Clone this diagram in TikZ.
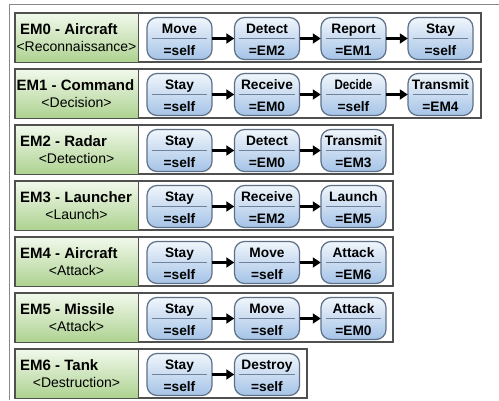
\documentclass[tikz,border=0pt]{standalone}
\usepackage{fontspec}
\setmainfont{Liberation Sans}
\usetikzlibrary{arrows.meta}

\definecolor{framegrey}{HTML}{8A8A8A}
\definecolor{rowgrey}{HTML}{505050}
\definecolor{greentop}{HTML}{F1F8EB}
\definecolor{greenbot}{HTML}{ADD290}
\definecolor{steptop}{HTML}{EEF4FB}
\definecolor{stepbot}{HTML}{A3C2E6}
\definecolor{stepedge}{HTML}{5F7188}
\definecolor{divline}{HTML}{6F8299}

\tikzset{
  rowbox/.style={draw=rowgrey, line width=1.1pt, fill=white},
  labelbox/.style={draw=rowgrey, line width=1.1pt, top color=greentop, bottom color=greenbot,
    minimum width=123pt, minimum height=49pt, anchor=north west, inner sep=0pt},
  titletext/.style={inner sep=0pt, font=\fontsize{15}{18}\selectfont\bfseries},
  subtext/.style={inner sep=0pt, font=\fontsize{14}{17}\selectfont},
  stepnode/.style={rectangle, minimum width=65pt, minimum height=42pt, inner sep=0pt},
  stepline/.style={draw=stepedge, line width=1.2pt},
  stepfill/.style={path picture={
      \foreach \k in {0,...,21} {
        \pgfmathsetmacro\mix{\k*100/21}
        \fill[stepbot!\mix!steptop]
          ([yshift=-2*\k pt]path picture bounding box.north west)
          rectangle ([yshift=-2*\k pt-2.4pt]path picture bounding box.north east);
      }}},
  steptext/.style={inner sep=0pt, anchor=base, font=\fontsize{13.7}{16}\selectfont\bfseries},
  divider/.style={draw=divline, line width=1pt},
  flow/.style={-{Triangle[length=8pt,width=10pt]}, line width=2.2pt, black},
}

% one entity row: name, top edge, title, subtitle, right edge, title x
\newcommand\emrow[6]{%
  \draw[rowbox] (15,#2) rectangle (#5,#2+49);
  \node[labelbox] (#1) at (15,#2) {};
  \node[titletext, anchor=base west] (#1t) at (#6,#2+21.6) {#3};
  \node[subtext, anchor=base] (#1s) at (76.5,#2+38) {#4};
}

% one step box: name, x centre, row top, action, target
% outline: 65 x 42 with corner arcs of radius 10pt
\newcommand\stepbox[5]{%
  \node[stepnode] (#1) at (#2,#3+25.5) {};
  \path[stepline, stepfill]
    (#2-22.5,#3+4.5) -- (#2+22.5,#3+4.5)
    arc[start angle=90, end angle=0, radius=10pt]
    -- (#2+32.5,#3+36.5)
    arc[start angle=0, end angle=-90, radius=10pt]
    -- (#2-22.5,#3+46.5)
    arc[start angle=270, end angle=180, radius=10pt]
    -- (#2-32.5,#3+14.5)
    arc[start angle=180, end angle=90, radius=10pt]
    -- cycle;
  \draw[divider] ([xshift=5pt]#1.west) -- ([xshift=-5pt]#1.east);
  \node[steptext] (#1a) at (#2,#3+20.6) {#4};
  \node[steptext] (#1b) at (#2,#3+42.3) {#5};
}

\newcommand\squeezed[1]{\scalebox{0.84}[1]{#1}}

\begin{document}
\begin{tikzpicture}[x=1pt, y=-1pt]
  \useasboundingbox (0,0) rectangle (499,400);

  % outer frame
  \draw[framegrey, line width=1pt] (9,400) -- (9,4) -- (499,4);

  % EM0
  \emrow{L0}{13}{EM0 - Aircraft}{<Reconnaissance>}{481}{20}
  \stepbox{a1}{179.5}{13}{Move}{=self}
  \stepbox{a2}{267}{13}{Detect}{=EM2}
  \stepbox{a3}{353.5}{13}{Report}{=EM1}
  \stepbox{a4}{440.5}{13}{Stay}{=self}
  \draw[flow] (a1) -- (a2);
  \draw[flow] (a2) -- (a3);
  \draw[flow] (a3) -- (a4);

  % EM1
  \emrow{L1}{69}{EM1 - Command}{<Decision>}{481}{16.5}
  \stepbox{b1}{179.5}{69}{Stay}{=self}
  \stepbox{b2}{267}{69}{Receive}{=EM0}
  \stepbox{b3}{353.5}{69}{\squeezed{Decide}}{=self}
  \stepbox{b4}{440.5}{69}{Transmit}{=EM4}
  \draw[flow] (b1) -- (b2);
  \draw[flow] (b2) -- (b3);
  \draw[flow] (b3) -- (b4);

  % EM2
  \emrow{L2}{125}{EM2 - Radar}{<Detection>}{393}{20}
  \stepbox{c1}{179.5}{125}{Stay}{=self}
  \stepbox{c2}{267}{125}{Detect}{=EM0}
  \stepbox{c3}{353.5}{125}{Transmit}{=EM3}
  \draw[flow] (c1) -- (c2);
  \draw[flow] (c2) -- (c3);

  % EM3
  \emrow{L3}{181}{EM3 - Launcher}{<Launch>}{393}{20}
  \stepbox{d1}{179.5}{181}{Stay}{=self}
  \stepbox{d2}{267}{181}{Receive}{=EM2}
  \stepbox{d3}{353.5}{181}{Launch}{=EM5}
  \draw[flow] (d1) -- (d2);
  \draw[flow] (d2) -- (d3);

  % EM4
  \emrow{L4}{237}{EM4 - Aircraft}{<Attack>}{393}{20}
  \stepbox{e1}{179.5}{237}{Stay}{=self}
  \stepbox{e2}{267}{237}{Move}{=self}
  \stepbox{e3}{353.5}{237}{Attack}{=EM6}
  \draw[flow] (e1) -- (e2);
  \draw[flow] (e2) -- (e3);

  % EM5
  \emrow{L5}{293}{EM5 - Missile}{<Attack>}{393}{20}
  \stepbox{f1}{179.5}{293}{Stay}{=self}
  \stepbox{f2}{267}{293}{Move}{=self}
  \stepbox{f3}{353.5}{293}{Attack}{=EM0}
  \draw[flow] (f1) -- (f2);
  \draw[flow] (f2) -- (f3);

  % EM6
  \emrow{L6}{349}{EM6 - Tank}{<Destruction>}{307}{20}
  \stepbox{g1}{179.5}{349}{Stay}{=self}
  \stepbox{g2}{267}{349}{Destroy}{=self}
  \draw[flow] (g1) -- (g2);
\end{tikzpicture}
\end{document}
